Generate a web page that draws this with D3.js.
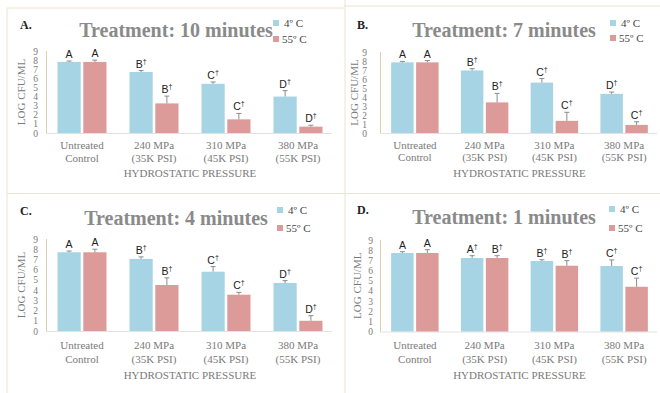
<!DOCTYPE html>
<html>
<head>
<meta charset="utf-8">
<script src="https://cdn.jsdelivr.net/npm/d3@7"></script>
<style>
  body { margin: 0; background: #fff; }
  svg { display: block; }
</style>
</head>
<body>
<svg id="chart" width="660" height="393"></svg>
<script>
// categories and series shared by all four panels
const categories = [["Untreated", "Control"], ["240 MPa", "(35K PSI)"], ["310 MPa", "(45K PSI)"], ["380 MPa", "(55K PSI)"]];
const seriesNames = ["4º C", "55º C"];
const yTicks = [0, 1, 2, 3, 4, 5, 6, 7, 8, 9];

// panel A: 10 minutes
const meansA_4 = [7.8, 6.7, 5.4, 4.0];
const meansA_55 = [7.8, 3.25, 1.5, 0.7];
const errA_4 = [0.1, 0.15, 0.2, 0.65];
const errA_55 = [0.2, 0.8, 0.65, 0.15];
const lettersA = [["A", "A"], ["B†", "B†"], ["C†", "C†"], ["D†", "D†"]];

// panel B: 7 minutes
const meansB_4 = [7.85, 6.95, 5.6, 4.35];
const meansB_55 = [7.85, 3.4, 1.35, 0.9];
const errB_4 = [0.1, 0.2, 0.45, 0.2];
const errB_55 = [0.2, 1.0, 0.95, 0.35];
const lettersB = [["A", "A"], ["B†", "B†"], ["C†", "C†"], ["D†", "C†"]];

// panel C: 4 minutes
const meansC_4 = [7.7, 7.05, 5.8, 4.7];
const meansC_55 = [7.7, 4.5, 3.55, 1.0];
const errC_4 = [0.12, 0.2, 0.5, 0.23];
const errC_55 = [0.3, 0.7, 0.23, 0.5];
const lettersC = [["A", "A"], ["B†", "B†"], ["C†", "C†"], ["D†", "D†"]];

// panel D: 1 minutes
const meansD_4 = [7.72, 7.23, 6.93, 6.44];
const meansD_55 = [7.72, 7.23, 6.47, 4.4];
const errD_4 = [0.13, 0.23, 0.13, 0.6];
const errD_55 = [0.33, 0.23, 0.5, 0.85];
const lettersD = [["A", "A"], ["A†", "B†"], ["B†", "B†"], ["C†", "C†"]];

const colors = ["#a7d4e4", "#dc9b98"];
const serif = "'Liberation Serif', 'Times New Roman', serif";
const sans = "'Liberation Sans', Arial, sans-serif";

const panels = [
  { tag: "A.", title: "Treatment: 10 minutes", m4: meansA_4, m55: meansA_55, e4: errA_4, e55: errA_55, letters: lettersA,
    x0: 46, x1: 334, y0: 133, y9: 51, tagX: 20, tagY: 29, titleX: 176, titleY: 37, legX: 273, legY: [23, 39],
    ylabX: 25, tickPad: 8, catY: [149, 162], xlabY: 177 },
  { tag: "B.", title: "Treatment: 7 minutes", m4: meansB_4, m55: meansB_55, e4: errB_4, e55: errB_55, letters: lettersB,
    x0: 380, x1: 659, y0: 133, y9: 52, tagX: 357, tagY: 29, titleX: 504, titleY: 37, legX: 610, legY: [23, 38],
    ylabX: 358, tickPad: 13, catY: [149, 161], xlabY: 177 },
  { tag: "C.", title: "Treatment: 4 minutes", m4: meansC_4, m55: meansC_55, e4: errC_4, e55: errC_55, letters: lettersC,
    x0: 46, x1: 334, y0: 331, y9: 239, tagX: 20, tagY: 215, titleX: 176, titleY: 225, legX: 277, legY: [210, 228],
    ylabX: 25, tickPad: 8, catY: [349, 363], xlabY: 379 },
  { tag: "D.", title: "Treatment: 1 minutes", m4: meansD_4, m55: meansD_55, e4: errD_4, e55: errD_55, letters: lettersD,
    x0: 380, x1: 659, y0: 331.5, y9: 240, tagX: 357, tagY: 214, titleX: 504, titleY: 224, legX: 609, legY: [209, 228],
    ylabX: 361, tickPad: 7, catY: [349, 363], xlabY: 379 }
];

const svg = d3.select("#chart");

// panel frame lines
const frameColor = "#ece4cf";
svg.append("line").attr("x1", 7).attr("x2", 7).attr("y1", 8).attr("y2", 393).attr("stroke", frameColor);
svg.append("line").attr("x1", 7).attr("x2", 344).attr("y1", 8).attr("y2", 8).attr("stroke", frameColor);
svg.append("line").attr("x1", 344).attr("x2", 660).attr("y1", 6).attr("y2", 6).attr("stroke", frameColor);
svg.append("line").attr("x1", 345).attr("x2", 345).attr("y1", 0).attr("y2", 393).attr("stroke", frameColor);
svg.append("line").attr("x1", 7).attr("x2", 660).attr("y1", 193.5).attr("y2", 193.5).attr("stroke", frameColor);

panels.forEach(p => {
  const g = svg.append("g");

  const x = d3.scaleBand().domain(d3.range(categories.length)).range([p.x0, p.x1])
    .paddingInner(0.32).paddingOuter(0.16);
  const xs = d3.scaleBand().domain([0, 1]).range([0, x.bandwidth()]).paddingInner(0.1);
  const y = d3.scaleLinear().domain([0, 9]).range([p.y0, p.y9]);

  // baseline
  g.append("line").attr("x1", p.x0).attr("x2", p.x1 - 2).attr("y1", p.y0 + 0.5).attr("y2", p.y0 + 0.5)
    .attr("stroke", "#e2e2e2");

  // y axis
  const yAxis = g.append("g").attr("transform", `translate(${p.x0},0)`)
    .call(d3.axisLeft(y).tickValues(yTicks).tickSize(0).tickPadding(p.tickPad));
  yAxis.select(".domain").attr("stroke", "#dccfae").attr("d", `M0.5,${p.y0}V${p.y9}`);
  yAxis.selectAll("text").attr("font-family", serif).attr("font-size", 9.5).attr("fill", "#7a7a7a");

  g.append("text").attr("transform", `translate(${p.ylabX},${(p.y0 + p.y9) / 2}) rotate(-90)`)
    .attr("text-anchor", "middle").attr("font-family", serif).attr("font-size", 11)
    .attr("fill", "#7a7a7a").text("LOG CFU/ML");

  const rows = categories.map((c, i) => [
    { i, s: 0, v: p.m4[i], e: p.e4[i], l: p.letters[i][0] },
    { i, s: 1, v: p.m55[i], e: p.e55[i], l: p.letters[i][1] }
  ]).flat();

  g.selectAll("rect.bar").data(rows).join("rect")
    .attr("x", d => x(d.i) + xs(d.s)).attr("width", xs.bandwidth())
    .attr("y", d => y(d.v)).attr("height", d => y(0) - y(d.v))
    .attr("fill", d => colors[d.s]);

  // error bars (upper only)
  const cx = d => x(d.i) + xs(d.s) + xs.bandwidth() / 2;
  const eb = g.selectAll("g.err").data(rows).join("g")
    .attr("stroke", "#8c8c8c").attr("stroke-width", 1);
  eb.append("line").attr("x1", cx).attr("x2", cx)
    .attr("y1", d => y(d.v)).attr("y2", d => y(d.v + d.e));
  eb.append("line").attr("x1", d => cx(d) - 2.5).attr("x2", d => cx(d) + 2.5)
    .attr("y1", d => y(d.v + d.e)).attr("y2", d => y(d.v + d.e));

  // significance letters
  const lt = g.selectAll("text.sig").data(rows).join("text")
    .attr("x", cx).attr("y", d => y(d.v + d.e) - 3)
    .attr("text-anchor", "middle").attr("font-family", sans).attr("font-size", 10.5).attr("fill", "#222");
  lt.append("tspan").text(d => d.l.replace("†", ""));
  lt.filter(d => d.l.includes("†")).append("tspan").attr("dy", -4).attr("font-size", 7).text("†");

  // category labels
  categories.forEach((c, i) => {
    c.forEach((line, k) => {
      g.append("text").attr("x", x(i) + x.bandwidth() / 2).attr("y", p.catY[k])
        .attr("text-anchor", "middle").attr("font-family", serif).attr("font-size", 11)
        .attr("fill", "#7a7a7a").text(line);
    });
  });

  g.append("text").attr("x", (p.x0 + p.x1) / 2).attr("y", p.xlabY).attr("text-anchor", "middle")
    .attr("font-family", serif).attr("font-size", 11).attr("fill", "#7a7a7a").text("HYDROSTATIC PRESSURE");

  // panel tag and title
  g.append("text").attr("x", p.tagX).attr("y", p.tagY).attr("font-family", serif).attr("font-weight", "bold")
    .attr("font-size", 12).attr("fill", "#222").text(p.tag);
  g.append("text").attr("x", p.titleX).attr("y", p.titleY).attr("text-anchor", "middle")
    .attr("font-family", serif).attr("font-weight", "bold").attr("font-size", 20).attr("fill", "#8a8a8a")
    .text(p.title);

  // legend
  seriesNames.forEach((s, k) => {
    g.append("rect").attr("x", p.legX).attr("y", p.legY[k] - 3).attr("width", 6).attr("height", 6).attr("fill", colors[k]);
    g.append("text").attr("x", p.legX + (k === 0 ? 11 : 9)).attr("y", p.legY[k] + 4)
      .attr("font-family", serif).attr("font-size", 11).attr("fill", "#444").text(s);
  });
});
</script>
</body>
</html>
